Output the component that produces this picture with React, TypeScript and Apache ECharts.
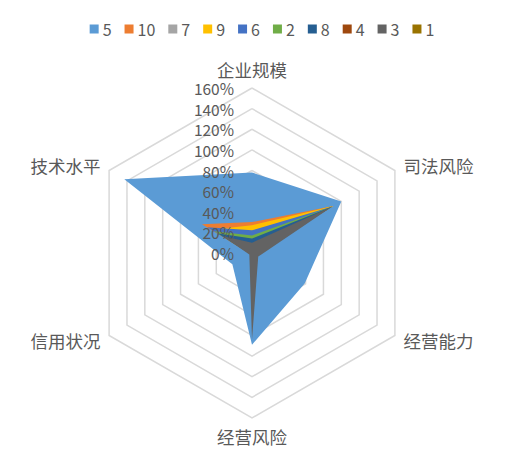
import React, { useEffect, useRef } from "react";
import * as echarts from "echarts";

// Indicator order as ECharts lays them out (counter-clockwise from top)
const indicatorNames = ["企业规模", "技术水平", "信用状况", "经营风险", "经营能力", "司法风险"];
const axisMax = 160;
const tickInterval = 20;

const seriesNames = ["5", "10", "7", "9", "6", "2", "8", "4", "3", "1"];
const seriesColors = ["#5B9BD5", "#ED7D31", "#A5A5A5", "#FFC000", "#4472C4", "#70AD47", "#255E91", "#9E480E", "#636363", "#997300"];

// values in % for: 企业规模, 技术水平, 信用状况, 经营风险, 经营能力, 司法风险
const s5 = [78, 143, 22, 89, 59, 100];
const s10 = [30, 56, 2, 2, 2, 91];
const s7 = [21, 44, 2, 2, 2, 89];
const s9 = [27, 45, 2, 2, 2, 91];
const s6 = [22, 50, 2, 2, 2, 90];
const s2 = [17, 42, 2, 2, 2, 90];
const s8 = [14, 38, 2, 2, 2, 90];
const s4 = [9, 30, 2, 2, 2, 85];
const s3 = [10, 33, 3, 84, 7, 90];
const s1 = [0, 0, 0, 0, 0, 0];
const seriesValues = [s5, s10, s7, s9, s6, s2, s8, s4, s3, s1];

export default function App() {
  const ref = useRef<HTMLDivElement>(null);
  useEffect(() => {
    if (!ref.current) return;
    const chart = echarts.init(ref.current, undefined, { renderer: "svg" });
    const textColor = "#595959";
    const font = "'Noto Sans CJK SC', 'Noto Sans', sans-serif";
    const center = [244, 245];
    const radius = 165;
    const gridIndicator = indicatorNames.map((n) => ({
      name: n,
      min: 0,
      max: axisMax,
      axisLabel: { show: false },
    }));
    const labelIndicator = indicatorNames.map((n, i) => ({
      name: n,
      min: 0,
      max: axisMax,
      axisLabel: { show: i === 0 },
    }));
    chart.setOption({
      animation: false,
      backgroundColor: "#ffffff",
      legend: {
        data: seriesNames,
        top: 8,
        left: "center",
        itemWidth: 9,
        itemHeight: 9,
        itemGap: 13,
        icon: "rect",
        textStyle: { color: textColor, fontSize: 16, fontFamily: font, padding: [0, 0, 0, -1] },
      },
      radar: [
        {
          center,
          radius,
          startAngle: 90,
          shape: "polygon",
          splitNumber: axisMax / tickInterval,
          nameGap: 10,
          axisName: { color: textColor, fontSize: 17.5, fontFamily: font },
          indicator: gridIndicator,
          axisLine: { show: false },
          axisTick: { show: false },
          splitArea: { show: false },
          splitLine: { lineStyle: { color: "#D9D9D9", width: 1.5 } },
          axisLabel: { show: false },
        },
        {
          center,
          radius,
          startAngle: 90,
          shape: "polygon",
          splitNumber: axisMax / tickInterval,
          z: 10,
          axisName: { show: false },
          indicator: labelIndicator,
          axisLine: { show: false },
          axisTick: { show: false },
          splitArea: { show: false },
          splitLine: { show: false },
          axisLabel: {
            show: true,
            color: textColor,
            fontSize: 15.5,
            fontFamily: font,
            margin: 18,
            formatter: (v: number) => v + "%",
            showMinLabel: true,
            showMaxLabel: true,
          },
        },
      ],
      series: seriesNames.map((name, i) => ({
        type: "radar",
        radarIndex: 0,
        name,
        symbol: "none",
        color: seriesColors[i],
        lineStyle: { width: 0, opacity: 0 },
        areaStyle: { color: seriesColors[i], opacity: 1 },
        data: [{ name, value: seriesValues[i] }],
      })),
    });
    return () => chart.dispose();
  }, []);
  return <div ref={ref} style={{ width: 508, height: 448 }} />;
}
